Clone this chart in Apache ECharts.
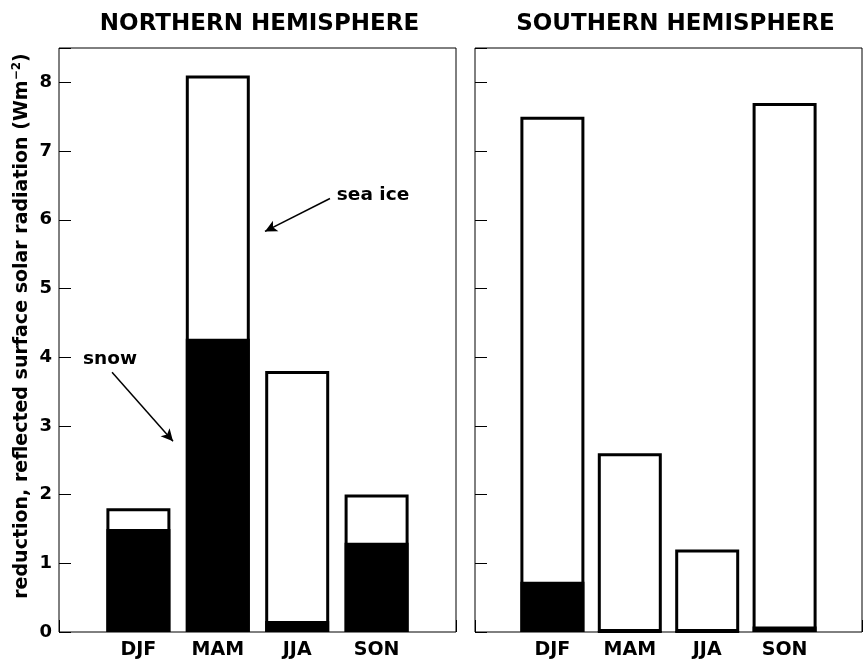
<!DOCTYPE html>
<html>
<head>
<meta charset="utf-8">
<script src="https://cdn.jsdelivr.net/npm/echarts@6/dist/echarts.min.js"></script>
<style>html,body{margin:0;padding:0;background:#fff}#c{width:865px;height:660px}</style>
</head>
<body>
<div id="c"></div>
<script>
const categories = ['DJF', 'MAM', 'JJA', 'SON'];
const panelTitles = ['NORTHERN HEMISPHERE', 'SOUTHERN HEMISPHERE'];
const nhTotal = [1.8, 8.1, 3.8, 2.0];
const nhSnow = [1.5, 4.27, 0.16, 1.3];
const shTotal = [7.5, 2.6, 1.2, 7.7];
const shSnow = [0.73, 0, 0, 0.08];
const yTickLabels = ['0', '1', '2', '3', '4', '5', '6', '7', '8'];
const yAxisName = 'reduction, reflected surface solar radiation (Wm{sup|\u22122})';

const FONT = 'DejaVu Sans';
const chart = echarts.init(document.getElementById('c'), null, {renderer: 'canvas'});

const grids = [
  {left: 59, top: 48, width: 397, height: 584, show: true, borderColor: '#000', borderWidth: 1, backgroundColor: 'transparent'},
  {left: 475, top: 48, width: 397, height: 584, show: true, borderColor: '#000', borderWidth: 1, backgroundColor: 'transparent'}
];

function toPairs(arr) { return arr.map((v, i) => [i + 1, v]); }

const X_RANGE = {type: 'value', min: 0, max: 5, interval: 1};
const Y_RANGE = {type: 'value', min: 0, max: 8.5, interval: 1};
const noLine = {show: false};
const noSplit = {show: false};
// tick-only axes shifted inward by the tick length so that ticks point into the plot
function tickAxis(base, g, position) {
  return Object.assign({}, base, {
    gridIndex: g, position: position, offset: -6,
    axisLine: noLine, splitLine: noSplit, axisLabel: {show: false},
    axisTick: {show: true, length: 6, lineStyle: {color: '#000', width: 1}}
  });
}

const xAxes = [], yAxes = [], series = [];
[0, 1].forEach(g => {
  // main x axis: labels
  xAxes.push(Object.assign({}, X_RANGE, {
    gridIndex: g, position: 'bottom',
    axisLine: noLine, axisTick: {show: false}, splitLine: noSplit,
    axisLabel: {
      margin: 9, color: '#000', fontFamily: FONT, fontWeight: 'bold', fontSize: 19,
      formatter: v => categories[v - 1] || ''
    }
  }));
  xAxes.push(tickAxis(X_RANGE, g, 'bottom'));
  xAxes.push(tickAxis(X_RANGE, g, 'top'));

  // main y axis: labels + name
  yAxes.push(Object.assign({}, Y_RANGE, {
    gridIndex: g, position: 'left',
    axisLine: noLine, axisTick: {show: false}, splitLine: noSplit,
    axisLabel: {
      show: g === 0, margin: 7, color: '#000', fontFamily: FONT, fontWeight: 'bold', fontSize: 18,
      formatter: v => (Number.isInteger(v) && yTickLabels[v] !== undefined) ? yTickLabels[v] : ''
    },
    name: g === 0 ? yAxisName : '',
    nameLocation: 'middle', nameRotate: 90, nameGap: 26,
    nameTextStyle: {
      color: '#000', fontFamily: FONT, fontWeight: 'bold', fontSize: 19,
      padding: [0, 0, 0, 28],
      rich: {sup: {fontFamily: FONT, fontWeight: 'bold', fontSize: 12, padding: [0, 0, 10, 0], color: '#000'}}
    }
  }));
  yAxes.push(tickAxis(Y_RANGE, g, 'left'));
  yAxes.push(tickAxis(Y_RANGE, g, 'right'));
});

const barCommon = {type: 'bar', barWidth: 64, barGap: '-100%', silent: true};

const datasets = [[nhTotal, nhSnow], [shTotal, shSnow]];
datasets.forEach((d, g) => {
  series.push(Object.assign({}, barCommon, {
    name: 'total' + g, xAxisIndex: g * 3, yAxisIndex: g * 3,
    data: toPairs(d[0]),
    itemStyle: {color: '#fff', borderColor: '#000', borderWidth: 3}, z: 2
  }));
  const snowSeries = Object.assign({}, barCommon, {
    name: 'snow' + g, xAxisIndex: g * 3, yAxisIndex: g * 3,
    data: toPairs(d[1]),
    itemStyle: {color: '#000', borderColor: '#000', borderWidth: 2}, z: 3
  });
  if (g === 0) {
    const annoLabel = {show: true, position: 'inside', color: '#000', fontFamily: FONT, fontWeight: 'bold', fontSize: 18.5, formatter: '{b}'};
    snowSeries.markPoint = {
      silent: true, symbol: 'circle', symbolSize: 0, label: annoLabel,
      data: [
        {name: 'snow', coord: [0.642, 3.97]},
        {name: 'sea ice', coord: [3.955, 6.36]}
      ]
    };
    snowSeries.markLine = {
      silent: true, symbol: ['none', 'arrow'], symbolSize: [9, 12],
      lineStyle: {color: '#000', width: 1.5, type: 'solid'},
      label: {show: false},
      data: [
        [{coord: [0.668, 3.78]}, {coord: [1.436, 2.776]}],
        [{coord: [3.413, 6.31]}, {coord: [2.594, 5.83]}]
      ]
    };
  }
  series.push(snowSeries);
});

const titles = panelTitles.map((t, i) => ({
  text: t, left: grids[i].left + grids[i].width / 2 - 3, top: 8, textAlign: 'center',
  textStyle: {color: '#000', fontFamily: FONT, fontWeight: 'bold', fontSize: 23}
}));

chart.setOption({
  animation: false,
  backgroundColor: '#fff',
  title: titles,
  grid: grids,
  xAxis: xAxes,
  yAxis: yAxes,
  series: series
});
</script>
</body>
</html>
